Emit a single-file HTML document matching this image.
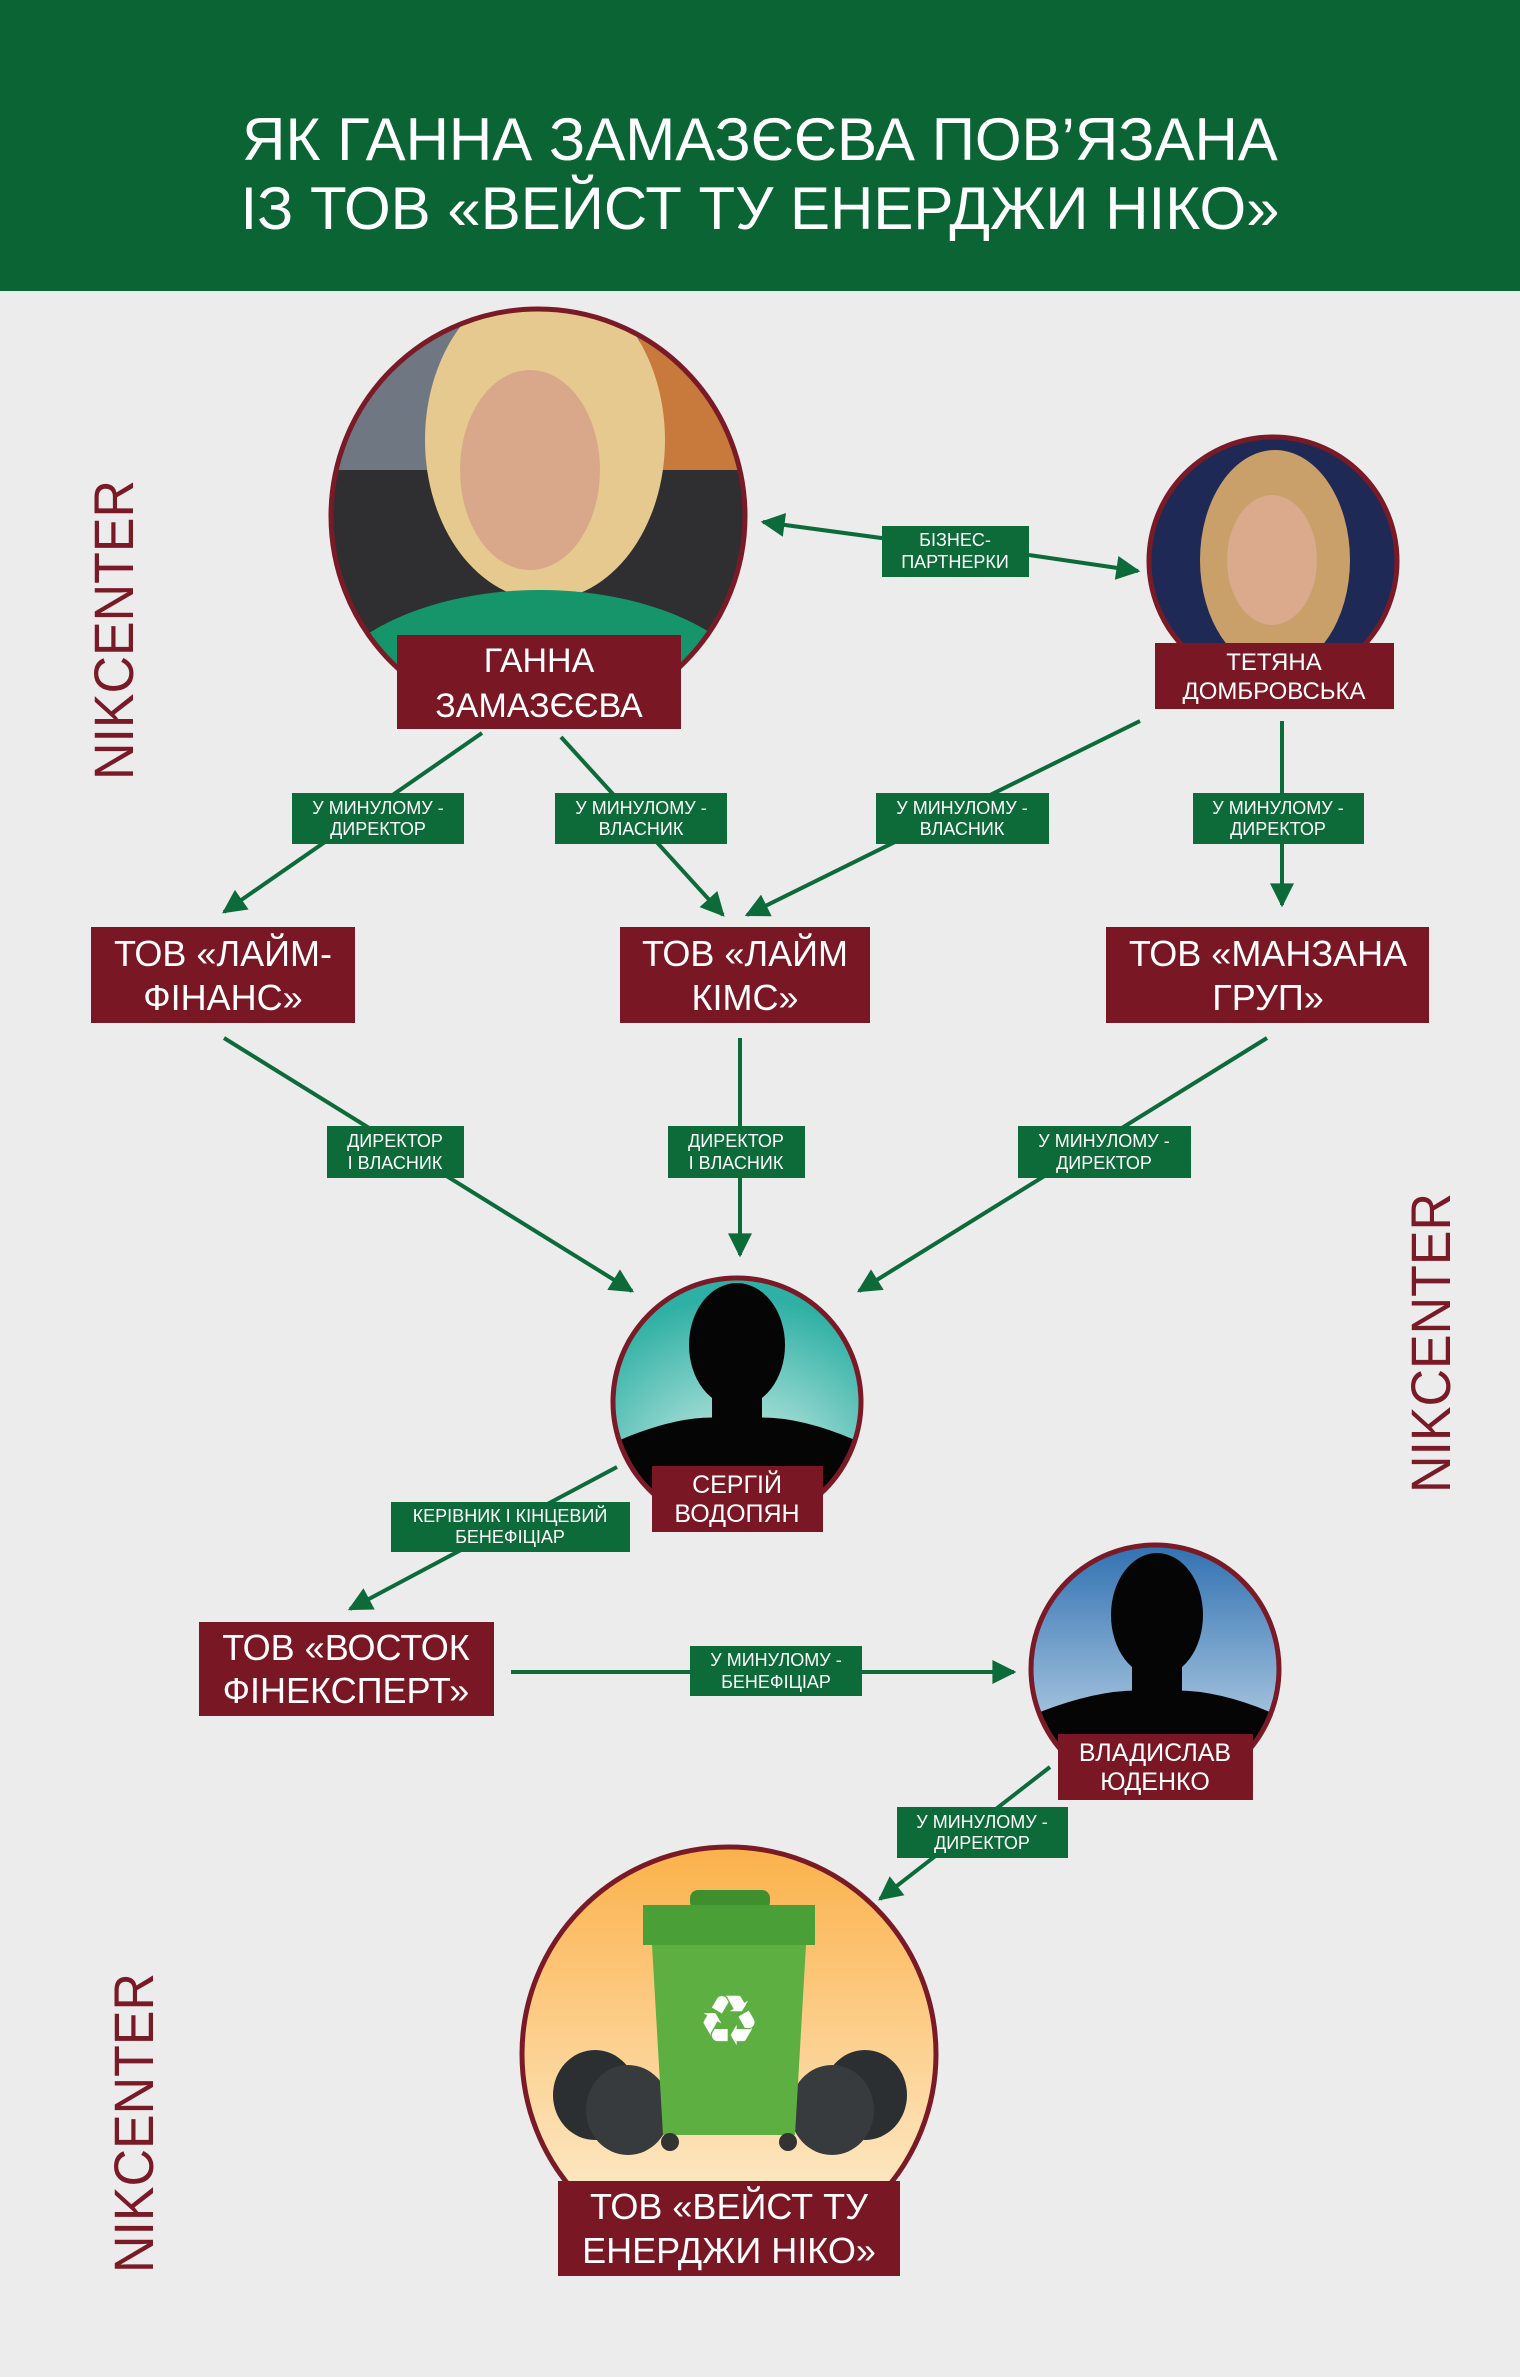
<!DOCTYPE html>
<html><head><meta charset="utf-8"><style>
html,body{margin:0;padding:0;background:#ececec}
svg{display:block}
text{font-family:"Liberation Sans",sans-serif}
</style></head><body>
<svg width="1520" height="2377" viewBox="0 0 1520 2377" xmlns="http://www.w3.org/2000/svg">
<defs>
<marker id="ah" viewBox="0 0 10 10" refX="9" refY="5" markerWidth="7" markerHeight="6" orient="auto" markerUnits="strokeWidth"><path d="M0,0 L10,5 L0,10 z" fill="#0d6b3a"/></marker>
<radialGradient id="teal" cx="50%" cy="80%" r="70%"><stop offset="0" stop-color="#dff4ef"/><stop offset="1" stop-color="#2fb0a4"/></radialGradient>
<linearGradient id="blue" x1="0" y1="0" x2="0" y2="1"><stop offset="0" stop-color="#2e6fb0"/><stop offset="1" stop-color="#d8e8f2"/></linearGradient>
<linearGradient id="orange" x1="0" y1="0" x2="0" y2="1"><stop offset="0" stop-color="#fbb14a"/><stop offset="1" stop-color="#fdf3dc"/></linearGradient>
<clipPath id="c1"><circle cx="538" cy="516" r="206"/></clipPath>
<clipPath id="c2"><circle cx="1273" cy="561" r="123"/></clipPath>
<clipPath id="c3"><circle cx="737" cy="1402" r="123"/></clipPath>
<clipPath id="c4"><circle cx="1155" cy="1669" r="123"/></clipPath>
<clipPath id="c5"><circle cx="729" cy="2054" r="206"/></clipPath>
</defs>
<rect width="1520" height="2377" fill="#ececec"/>
<rect width="1520" height="291" fill="#0b6433"/>
<text x="760" y="160" fill="#fff" font-size="60" text-anchor="middle">ЯК ГАННА ЗАМАЗЄЄВА ПОВ’ЯЗАНА</text>
<text x="760" y="229" fill="#fff" font-size="60" text-anchor="middle">ІЗ ТОВ «ВЕЙСТ ТУ ЕНЕРДЖИ НІКО»</text>

<g fill="#7a1a27" font-size="56">
<text transform="translate(133,780) rotate(-90)" textLength="300" lengthAdjust="spacingAndGlyphs">NIKCENTER</text>
<text transform="translate(1450,1493) rotate(-90)" textLength="300" lengthAdjust="spacingAndGlyphs">NIKCENTER</text>
<text transform="translate(153,2273) rotate(-90)" textLength="300" lengthAdjust="spacingAndGlyphs">NIKCENTER</text>
</g>

<g stroke="#0d6b3a" stroke-width="4" fill="none" marker-end="url(#ah)">
<line x1="482" y1="733" x2="224" y2="912"/>
<line x1="561" y1="737" x2="723" y2="915"/>
<line x1="1140" y1="721" x2="747" y2="915"/>
<line x1="1282" y1="721" x2="1282" y2="905"/>
<line x1="224" y1="1038" x2="632" y2="1291"/>
<line x1="740" y1="1038" x2="740" y2="1255"/>
<line x1="1267" y1="1038" x2="859" y2="1291"/>
<line x1="617" y1="1467" x2="350" y2="1609"/>
<line x1="511" y1="1672" x2="1014" y2="1672"/>
<line x1="1050" y1="1767" x2="880" y2="1899"/>
<line x1="955" y1="548" x2="763" y2="522"/>
<line x1="1029" y1="555" x2="1138" y2="571"/>
</g>

<g clip-path="url(#c1)">
<rect x="330" y="308" width="420" height="420" fill="#6f7782"/>
<rect x="640" y="308" width="110" height="420" fill="#c77a3c"/>
<rect x="330" y="470" width="420" height="260" fill="#2f2f31"/>
<ellipse cx="545" cy="440" rx="120" ry="160" fill="#e5c98f"/>
<ellipse cx="530" cy="470" rx="70" ry="100" fill="#d9a88a"/>
<ellipse cx="540" cy="720" rx="230" ry="130" fill="#17956a"/>
</g>
<circle cx="538" cy="516" r="207" fill="none" stroke="#7a1a27" stroke-width="5"/>
<rect x="397" y="635" width="284" height="94" fill="#7a1724"/>
<text x="539" y="672" fill="#fff" font-size="34" text-anchor="middle">ГАННА</text>
<text x="539" y="717" fill="#fff" font-size="34" text-anchor="middle">ЗАМАЗЄЄВА</text>

<g clip-path="url(#c2)">
<rect x="1140" y="430" width="270" height="270" fill="#1e2a55"/>
<ellipse cx="1275" cy="560" rx="75" ry="110" fill="#c9a06a"/>
<ellipse cx="1272" cy="560" rx="45" ry="65" fill="#dba98c"/>
</g>
<circle cx="1273" cy="561" r="124" fill="none" stroke="#7a1a27" stroke-width="5"/>
<rect x="1155" y="643" width="239" height="66" fill="#7a1724"/>
<text x="1274" y="670" fill="#fff" font-size="24" text-anchor="middle">ТЕТЯНА</text>
<text x="1274" y="699" fill="#fff" font-size="24" text-anchor="middle">ДОМБРОВСЬКА</text>

<g fill="#0d6b3a">
<rect x="882" y="526" width="147" height="51"/>
<rect x="292" y="793" width="172" height="51"/>
<rect x="555" y="793" width="172" height="51"/>
<rect x="876" y="793" width="173" height="51"/>
<rect x="1193" y="793" width="171" height="51"/>
<rect x="327" y="1126" width="137" height="52"/>
<rect x="668" y="1126" width="137" height="52"/>
<rect x="1018" y="1126" width="173" height="52"/>
<rect x="391" y="1502" width="239" height="50"/>
<rect x="690" y="1646" width="172" height="50"/>
<rect x="897" y="1807" width="171" height="51"/>
</g>
<g fill="#fff" font-size="18" text-anchor="middle">
<text x="955" y="546">БІЗНЕС-</text><text x="955" y="568">ПАРТНЕРКИ</text>
<text x="378" y="814">У МИНУЛОМУ -</text><text x="378" y="835">ДИРЕКТОР</text>
<text x="641" y="814">У МИНУЛОМУ -</text><text x="641" y="835">ВЛАСНИК</text>
<text x="962" y="814">У МИНУЛОМУ -</text><text x="962" y="835">ВЛАСНИК</text>
<text x="1278" y="814">У МИНУЛОМУ -</text><text x="1278" y="835">ДИРЕКТОР</text>
<text x="395" y="1147">ДИРЕКТОР</text><text x="395" y="1169">І ВЛАСНИК</text>
<text x="736" y="1147">ДИРЕКТОР</text><text x="736" y="1169">І ВЛАСНИК</text>
<text x="1104" y="1147">У МИНУЛОМУ -</text><text x="1104" y="1169">ДИРЕКТОР</text>
<text x="510" y="1522">КЕРІВНИК І КІНЦЕВИЙ</text><text x="510" y="1543">БЕНЕФІЦІАР</text>
<text x="776" y="1666">У МИНУЛОМУ -</text><text x="776" y="1688">БЕНЕФІЦІАР</text>
<text x="982" y="1828">У МИНУЛОМУ -</text><text x="982" y="1849">ДИРЕКТОР</text>
</g>

<g fill="#7a1724">
<rect x="91" y="927" width="264" height="96"/>
<rect x="620" y="927" width="250" height="96"/>
<rect x="1106" y="927" width="323" height="96"/>
<rect x="199" y="1622" width="295" height="94"/>
</g>
<g fill="#fff" font-size="36" text-anchor="middle">
<text x="223" y="966">ТОВ «ЛАЙМ-</text><text x="223" y="1010">ФІНАНС»</text>
<text x="745" y="966">ТОВ «ЛАЙМ</text><text x="745" y="1010">КІМС»</text>
<text x="1268" y="966">ТОВ «МАНЗАНА</text><text x="1268" y="1010">ГРУП»</text>
<text x="346" y="1660">ТОВ «ВОСТОК</text><text x="346" y="1703">ФІНЕКСПЕРТ»</text>
</g>

<g clip-path="url(#c3)">
<rect x="600" y="1270" width="280" height="270" fill="url(#teal)"/>
<ellipse cx="737" cy="1345" rx="48" ry="62" fill="#050505"/>
<rect x="712" y="1390" width="50" height="40" fill="#050505"/>
<path d="M600,1530 L620,1440 Q690,1410 737,1420 Q785,1410 855,1440 L875,1530 Z" fill="#050505"/>
</g>
<circle cx="737" cy="1402" r="124" fill="none" stroke="#7a1a27" stroke-width="5"/>
<rect x="652" y="1466" width="171" height="66" fill="#7a1724"/>
<text x="737" y="1493" fill="#fff" font-size="25" text-anchor="middle">СЕРГІЙ</text>
<text x="737" y="1522" fill="#fff" font-size="25" text-anchor="middle">ВОДОПЯН</text>

<g clip-path="url(#c4)">
<rect x="1030" y="1540" width="260" height="260" fill="url(#blue)"/>
<ellipse cx="1157" cy="1615" rx="46" ry="62" fill="#050505"/>
<rect x="1132" y="1660" width="50" height="40" fill="#050505"/>
<path d="M1020,1800 L1040,1712 Q1110,1685 1157,1692 Q1205,1685 1270,1712 L1290,1800 Z" fill="#050505"/>
</g>
<circle cx="1155" cy="1669" r="124" fill="none" stroke="#7a1a27" stroke-width="5"/>
<rect x="1058" y="1734" width="195" height="66" fill="#7a1724"/>
<text x="1155" y="1761" fill="#fff" font-size="25" text-anchor="middle">ВЛАДИСЛАВ</text>
<text x="1155" y="1790" fill="#fff" font-size="25" text-anchor="middle">ЮДЕНКО</text>

<g clip-path="url(#c5)">
<rect x="520" y="1845" width="420" height="420" fill="url(#orange)"/>
<ellipse cx="595" cy="2095" rx="42" ry="45" fill="#2c2f31"/>
<ellipse cx="628" cy="2110" rx="42" ry="45" fill="#383b3d"/>
<ellipse cx="865" cy="2095" rx="42" ry="45" fill="#2c2f31"/>
<ellipse cx="832" cy="2110" rx="42" ry="45" fill="#383b3d"/>
<rect x="690" y="1890" width="80" height="20" rx="8" fill="#3f8f2f"/>
<path d="M643,1905 L815,1905 L815,1945 L643,1945 Z" fill="#4a9f36"/>
<path d="M652,1945 L806,1945 L795,2135 L663,2135 Z" fill="#5eaf42"/>
<text x="729" y="2045" fill="#fff" font-size="70" text-anchor="middle" font-family="DejaVu Sans">♻</text>
<circle cx="670" cy="2142" r="9" fill="#333"/><circle cx="788" cy="2142" r="9" fill="#333"/>
</g>
<circle cx="729" cy="2054" r="207" fill="none" stroke="#7a1a27" stroke-width="5"/>
<rect x="558" y="2181" width="342" height="95" fill="#7a1724"/>
<text x="729" y="2219" fill="#fff" font-size="36" text-anchor="middle">ТОВ «ВЕЙСТ ТУ</text>
<text x="729" y="2263" fill="#fff" font-size="36" text-anchor="middle">ЕНЕРДЖИ НІКО»</text>
</svg>
</body></html>
